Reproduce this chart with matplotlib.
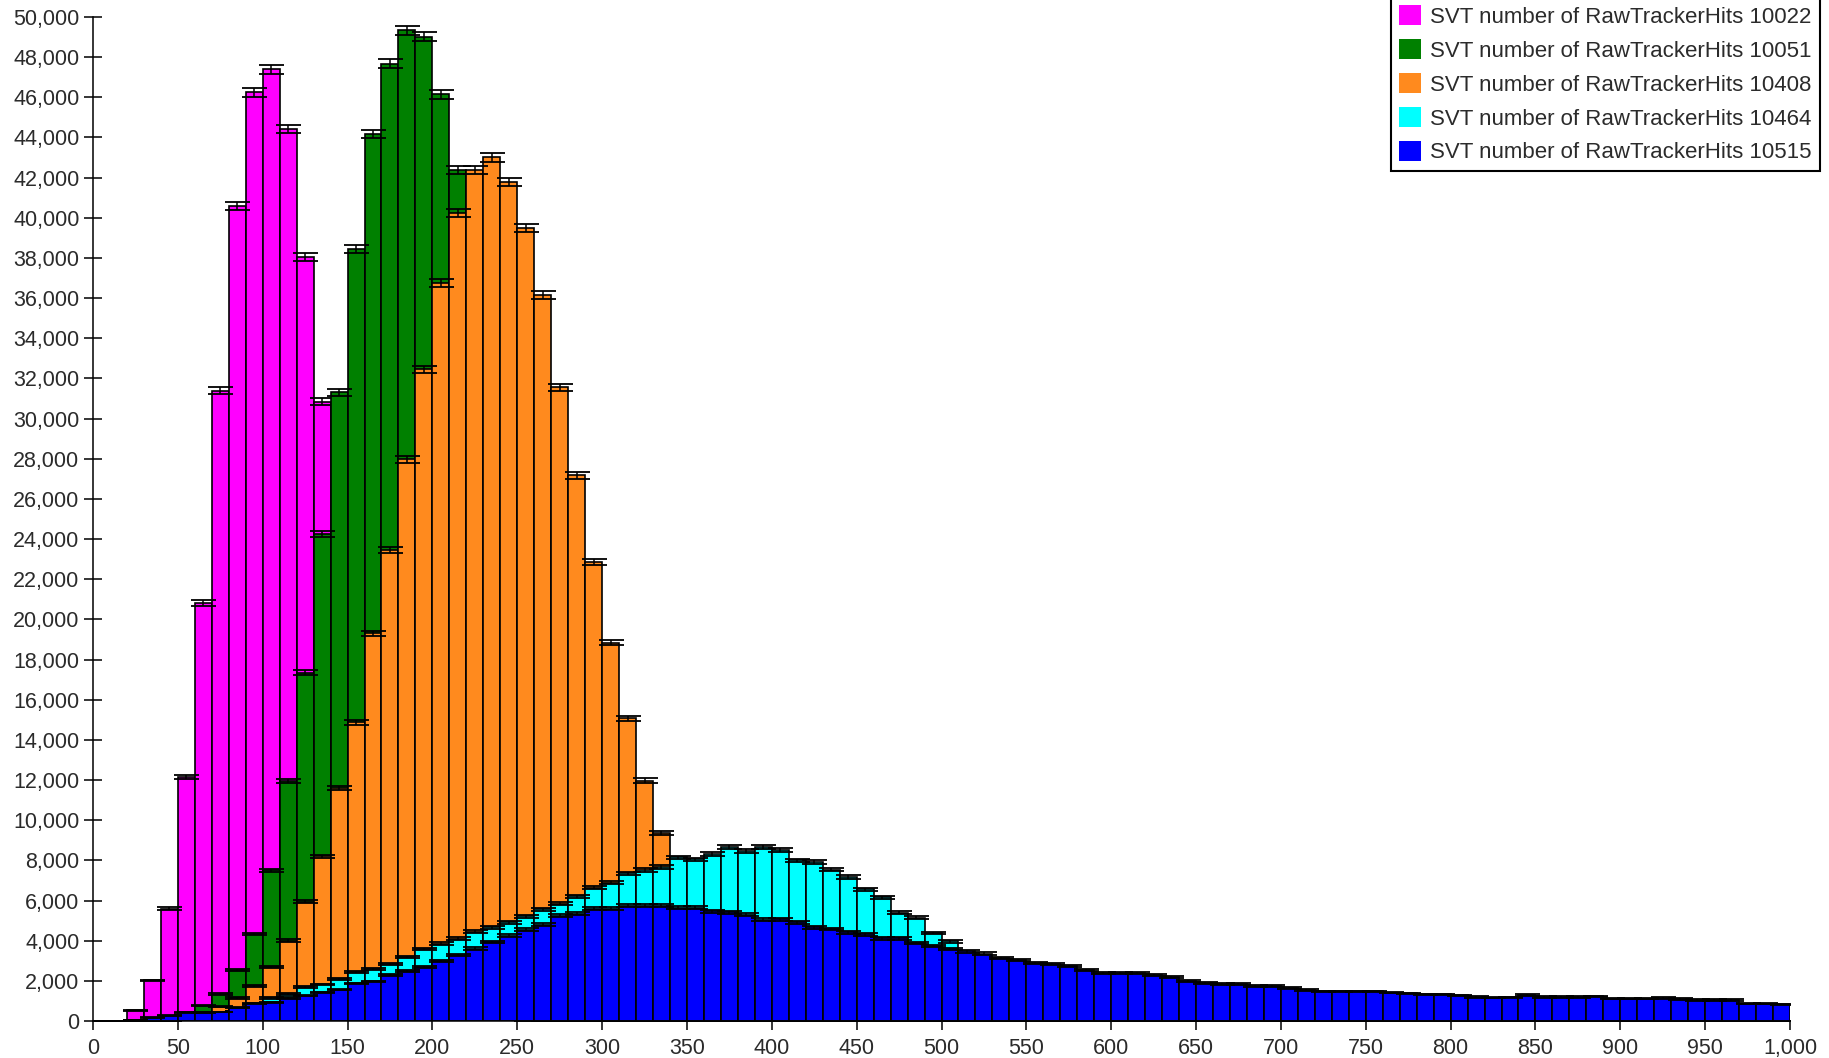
import numpy as np
import matplotlib
matplotlib.use("Agg")
import matplotlib.pyplot as plt
from matplotlib.patches import Patch
from matplotlib.ticker import FuncFormatter

plt.rcParams['font.family'] = ['Liberation Sans', 'DejaVu Sans']

# ---------------- data ----------------
bin_width = 10
bin_left = np.arange(0, 1000, bin_width)

labels = [
    "SVT number of RawTrackerHits 10022",
    "SVT number of RawTrackerHits 10051",
    "SVT number of RawTrackerHits 10408",
    "SVT number of RawTrackerHits 10464",
    "SVT number of RawTrackerHits 10515",
]
colors = ["#FF00FF", "#008000", "#FF8A1E", "#00FFFF", "#0000FF"]

run_10022 = [
    0, 0, 545, 2020, 5580, 12160, 20820, 31380, 40610, 46250,
    47390, 44430, 38030, 30840, 23000, 16000, 10500, 6500, 3800, 2100,
    1100, 550, 270, 130, 60, 30, 15, 8, 4, 2,
    1, 0, 0, 0, 0, 0, 0, 0, 0, 0,
    0, 0, 0, 0, 0, 0, 0, 0, 0, 0,
    0, 0, 0, 0, 0, 0, 0, 0, 0, 0,
    0, 0, 0, 0, 0, 0, 0, 0, 0, 0,
    0, 0, 0, 0, 0, 0, 0, 0, 0, 0,
    0, 0, 0, 0, 0, 0, 0, 0, 0, 0,
    0, 0, 0, 0, 0, 0, 0, 0, 0, 0,
]
run_10051 = [
    0, 0, 10, 40, 120, 300, 770, 1350, 2540, 4330,
    7500, 11960, 17340, 24240, 31300, 38460, 44180, 47680, 49350, 49010,
    46150, 42380, 37500, 32000, 26000, 20000, 14500, 10000, 6500, 4000,
    2400, 1400, 800, 450, 250, 130, 70, 30, 15, 8,
    4, 2, 1, 0, 0, 0, 0, 0, 0, 0,
    0, 0, 0, 0, 0, 0, 0, 0, 0, 0,
    0, 0, 0, 0, 0, 0, 0, 0, 0, 0,
    0, 0, 0, 0, 0, 0, 0, 0, 0, 0,
    0, 0, 0, 0, 0, 0, 0, 0, 0, 0,
    0, 0, 0, 0, 0, 0, 0, 0, 0, 0,
]
run_10408 = [
    0, 0, 5, 20, 60, 180, 450, 700, 1144, 1760,
    2690, 4000, 5930, 8200, 11610, 14870, 19300, 23470, 27980, 32450,
    36760, 40230, 42370, 43010, 41770, 39510, 36140, 31560, 27180, 22840,
    18840, 15070, 11970, 9380, 6800, 5000, 3500, 2400, 1600, 1000,
    650, 400, 250, 150, 90, 50, 30, 15, 8, 4,
    0, 0, 0, 0, 0, 0, 0, 0, 0, 0,
    0, 0, 0, 0, 0, 0, 0, 0, 0, 0,
    0, 0, 0, 0, 0, 0, 0, 0, 0, 0,
    0, 0, 0, 0, 0, 0, 0, 0, 0, 0,
    0, 0, 0, 0, 0, 0, 0, 0, 0, 0,
]
run_10464 = [
    0, 0, 0, 0, 20, 60, 150, 300, 500, 800,
    1140, 1355, 1690, 1820, 2080, 2440, 2600, 2840, 3170, 3600,
    3850, 4100, 4450, 4670, 4920, 5220, 5560, 5840, 6217, 6640,
    6890, 7355, 7525, 7675, 8150, 8050, 8330, 8660, 8450, 8660,
    8500, 8000, 7920, 7540, 7170, 6550, 6170, 5380, 5150, 4380,
    3960, 3100, 2500, 2000, 1600, 1250, 1000, 800, 640, 510,
    410, 330, 260, 210, 170, 135, 110, 90, 70, 55,
    45, 35, 28, 22, 18, 14, 11, 9, 7, 5,
    4, 3, 2, 2, 1, 1, 1, 0, 0, 0,
    0, 0, 0, 0, 0, 0, 0, 0, 0, 0,
]
run_10515 = [
    0, 0, 40, 170, 270, 430, 420, 450, 650, 890,
    930, 1140, 1260, 1420, 1560, 1870, 1970, 2280, 2510, 2710,
    2980, 3300, 3610, 3930, 4250, 4550, 4800, 5240, 5340, 5590,
    5590, 5730, 5730, 5730, 5640, 5640, 5470, 5420, 5290, 5040,
    5070, 4910, 4660, 4580, 4410, 4310, 4110, 4120, 3890, 3740,
    3590, 3470, 3360, 3120, 3040, 2900, 2830, 2730, 2560, 2380,
    2400, 2370, 2290, 2170, 2000, 1900, 1840, 1830, 1740, 1730,
    1650, 1550, 1480, 1470, 1470, 1480, 1410, 1370, 1320, 1320,
    1270, 1190, 1170, 1180, 1300, 1200, 1200, 1200, 1230, 1120,
    1120, 1120, 1150, 1100, 1040, 1040, 1040, 870, 870, 840,
]
series = [run_10022, run_10051, run_10408, run_10464, run_10515]

x_ticks = np.arange(0, 1001, 50)
y_ticks = np.arange(0, 50001, 2000)

# ---------------- figure ----------------
W, H, DPI = 1829, 1058, 100
fig = plt.figure(figsize=(W / DPI, H / DPI), dpi=DPI)
ax = fig.add_axes([93 / W, 1 - 1021 / H, (1790 - 93) / W, (1021 - 17) / H])

centers = bin_left + bin_width / 2
for i, (vals, col) in enumerate(zip(series, colors)):
    v = np.asarray(vals, dtype=float)
    ax.bar(bin_left, v, width=bin_width, align='edge', color=col,
           edgecolor='black', linewidth=1.2, zorder=2 * i + 2)
    ax.errorbar(centers, v, yerr=np.sqrt(v), fmt='none', ecolor='black',
                elinewidth=1.1, capsize=9, capthick=1.3, zorder=2 * i + 3)

ax.set_xlim(0, 1000)
ax.set_ylim(0, 50000)
ax.set_xticks(x_ticks)
ax.set_yticks(y_ticks)
fmt = FuncFormatter(lambda v, p: f"{int(round(v)):,}")
ax.xaxis.set_major_formatter(fmt)
ax.yaxis.set_major_formatter(fmt)

for s in ['top', 'right']:
    ax.spines[s].set_visible(False)
for s in ['left', 'bottom']:
    ax.spines[s].set_linewidth(1.1)
    ax.spines[s].set_zorder(20)

ax.tick_params(axis='y', direction='inout', length=13.5, width=1.1, pad=3.0,
               labelsize=15.5, labelcolor='#2b2b2b')
ax.tick_params(axis='x', direction='out', length=6.5, width=1.1, pad=6,
               labelsize=15.5, labelcolor='#2b2b2b')

handles = [Patch(facecolor=c, edgecolor='none') for c in colors]
leg = ax.legend(handles, labels, loc='lower right',
                bbox_to_anchor=(1820 / W, 1 - 171.5 / H),
                bbox_transform=fig.transFigure,
                fontsize=16, frameon=True, fancybox=False, shadow=False,
                framealpha=1, edgecolor='black', borderpad=0.36,
                handlelength=0.97, handleheight=0.97, handletextpad=0.45,
                labelspacing=0.52, borderaxespad=0)
leg.get_frame().set_linewidth(1.5)
for t in leg.get_texts():
    t.set_color('#2b2b2b')
leg.set_zorder(50)

fig.savefig("out.png", dpi=DPI)
